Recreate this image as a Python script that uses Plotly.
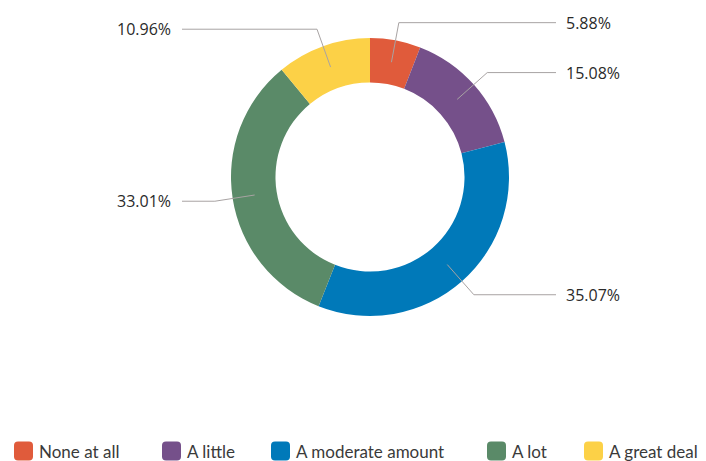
"""Donut chart with leader-line labels and a hand-drawn legend row."""
import math

import plotly.graph_objects as go

categories = ["None at all", "A little", "A moderate amount", "A lot", "A great deal"]
shares = [5.88, 15.08, 35.07, 33.01, 10.96]
colors = ["#E05B3B", "#75508A", "#0079B9", "#5A8A68", "#FCD147"]

W, H = 706, 461
CX, CY, R = 370, 177, 139
HOLE = 0.68
ELBOW_R = 157
RIGHT_END, LEFT_END = 556, 182
LINE_COLOR = "#A8A3A3"
LABEL_FONT = "Open Sans, Arial"
LEGEND_FONT = "Lato, Arial"


def px(x):
    return x / W


def py(y):
    return 1 - y / H


fig = go.Figure(
    go.Pie(
        labels=categories,
        values=shares,
        hole=HOLE,
        sort=False,
        direction="clockwise",
        rotation=0,
        marker=dict(colors=colors, line=dict(width=0)),
        textinfo="none",
        hoverinfo="label+percent",
        domain=dict(x=[px(CX - R), px(CX + R)], y=[py(CY + R), py(CY - R)]),
        showlegend=False,
    )
)

# leader lines and labels, placed from each slice's mid angle
total = sum(shares)
cum = 0.0
anchor_r = R * (1 + HOLE) / 2
for name, v in zip(categories, shares):
    mid = (cum + v / 2) / total * 2 * math.pi
    cum += v
    sx, sy = math.sin(mid), -math.cos(mid)
    ax, ay = CX + anchor_r * sx, CY + anchor_r * sy
    ex, ey = CX + ELBOW_R * sx, CY + ELBOW_R * sy
    right = sx >= 0
    end = RIGHT_END if right else LEFT_END
    fig.add_shape(
        type="path",
        xref="paper", yref="paper",
        path=f"M{px(ax)},{py(ay)} L{px(ex)},{py(ey)} L{px(end)},{py(ey)}",
        line=dict(color=LINE_COLOR, width=1),
        layer="above",
    )
    fig.add_annotation(
        x=px(end + 8 if right else end - 9), y=py(ey),
        xref="paper", yref="paper",
        text=f"{v:.2f}%", showarrow=False,
        xanchor="left" if right else "right", yanchor="middle",
        font=dict(size=16, color="#2A2A2A", family=LABEL_FONT),
    )

# legend row along the bottom
legend_x = [14, 162, 271, 487, 584]
SQ, LEG_Y = 19, 451
for name, c, x0 in zip(categories, colors, legend_x):
    r = 4
    x1, y0, y1 = x0 + SQ, LEG_Y - SQ / 2, LEG_Y + SQ / 2
    path = (
        f"M{px(x0 + r)},{py(y0)} L{px(x1 - r)},{py(y0)} "
        f"Q{px(x1)},{py(y0)} {px(x1)},{py(y0 + r)} L{px(x1)},{py(y1 - r)} "
        f"Q{px(x1)},{py(y1)} {px(x1 - r)},{py(y1)} L{px(x0 + r)},{py(y1)} "
        f"Q{px(x0)},{py(y1)} {px(x0)},{py(y1 - r)} L{px(x0)},{py(y0 + r)} "
        f"Q{px(x0)},{py(y0)} {px(x0 + r)},{py(y0)} Z"
    )
    fig.add_shape(type="path", xref="paper", yref="paper", path=path,
                  fillcolor=c, line=dict(width=0), layer="above")
    fig.add_annotation(
        x=px(x1 + 4), y=py(LEG_Y), xref="paper", yref="paper",
        text=name, showarrow=False, xanchor="left", yanchor="middle",
        font=dict(size=17, color="#3A3A3A", family=LEGEND_FONT),
    )

fig.update_layout(
    width=W, height=H,
    margin=dict(l=0, r=0, t=0, b=0),
    paper_bgcolor="white",
    plot_bgcolor="white",
)
fig.write_html(
    "out.html",
    config={"displayModeBar": False},
    post_script="document.body.style.margin='0';",
)
